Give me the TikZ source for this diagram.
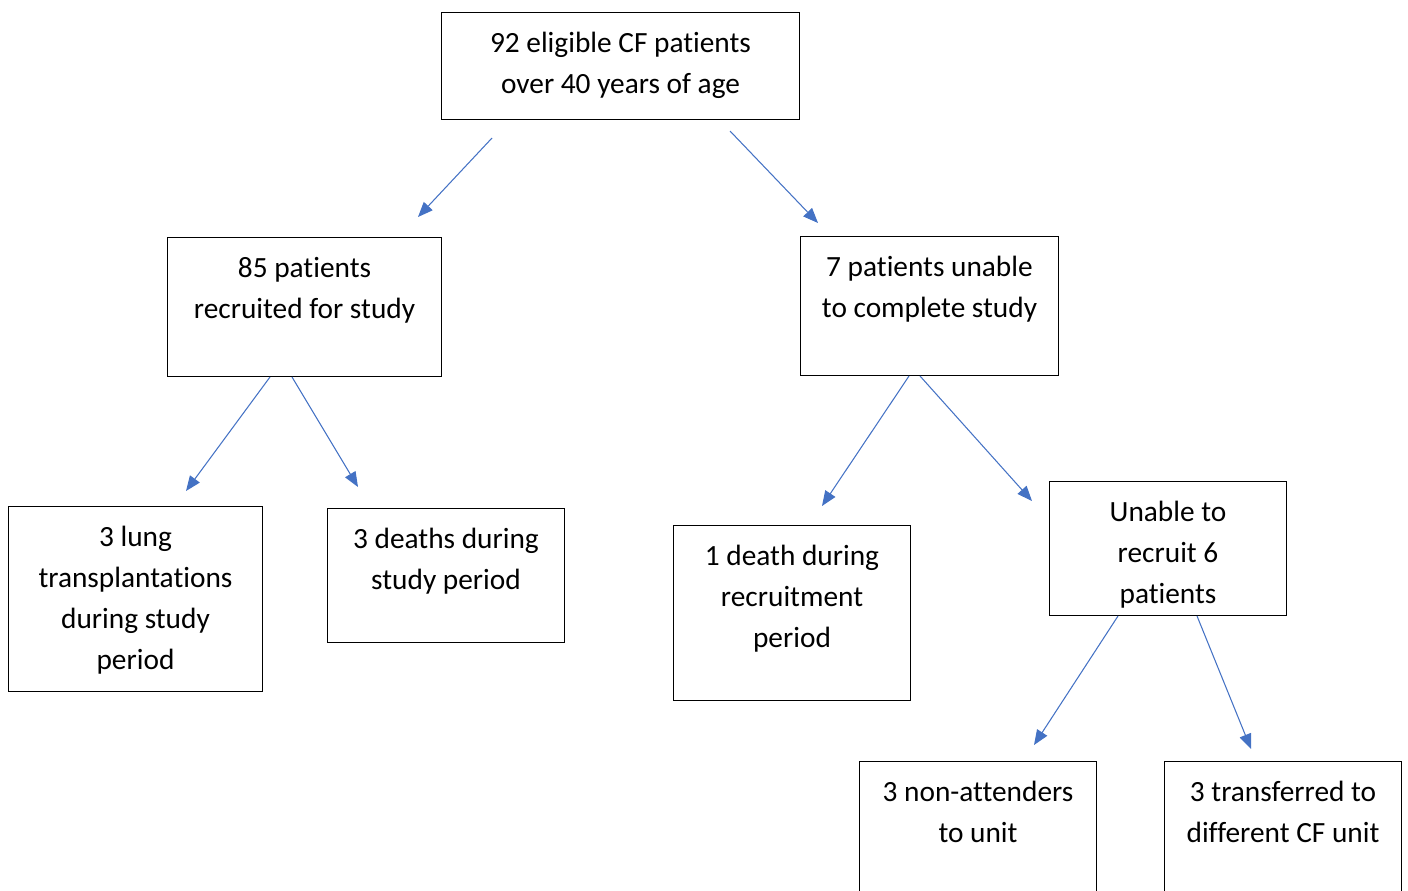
\documentclass[tikz,border=0pt]{standalone}
\usepackage{fontspec}
\setmainfont{Carlito}[Ligatures=NoCommon]
\usetikzlibrary{arrows.meta,positioning}
\definecolor{arrblue}{HTML}{4472C4}
\tikzset{
  box/.style={draw,line width=0.6pt,anchor=north west,inner sep=0pt},
  txt/.style={align=center,inner sep=0pt,font=\fontsize{16.7}{23.4}\selectfont},
  arr/.style={draw=arrblue,line width=0.6pt,-{Triangle[length=0.3cm,width=0.24cm]}}
}
\begin{document}
\begin{tikzpicture}[x=0.02cm,y=-0.02cm]
	\useasboundingbox (0,0) rectangle (1408,890);
	\clip (0,0) rectangle (1408,890);
	% boxes
	\node[box,minimum width=7.16cm,minimum height=2.14cm] (all) at (441,12) {};
	\node[box,minimum width=5.48cm,minimum height=2.78cm] (recr) at (167,237) {};
	\node[box,minimum width=5.16cm,minimum height=2.78cm] (unab) at (800,236) {};
	\node[box,minimum width=5.08cm,minimum height=3.70cm] (lung) at (8,506) {};
	\node[box,minimum width=4.74cm,minimum height=2.68cm] (dstud) at (327,508) {};
	\node[box,minimum width=4.74cm,minimum height=3.50cm] (drecr) at (673,525) {};
	\node[box,minimum width=4.74cm,minimum height=2.68cm] (six) at (1049,481) {};
	\node[box,minimum width=4.74cm,minimum height=4.00cm] (nonatt) at (859,761) {};
	\node[box,minimum width=4.74cm,minimum height=4.00cm] (transf) at (1164,761) {};
	% texts
	\node[txt,below=0.39cm of all.north] (allt) {92 eligible CF patients\\over 40 years of age};
	\node[txt,below=0.39cm of recr.north] (recrt) {85 patients\\recruited for study};
	\node[txt,below=0.39cm of unab.north] (unabt) {7 patients unable\\to complete study};
	\node[txt,below=0.39cm of lung.north] (lungt) {3 lung\\transplantations\\during study\\period};
	\node[txt,below=0.39cm of dstud.north] (dstudt) {3 deaths during\\study period};
	\node[txt,below=0.39cm of drecr.north] (drecrt) {1 death during\\recruitment\\period};
	\node[txt,below=0.39cm of six.north] (sixt) {Unable to\\recruit 6\\patients};
	\node[txt,below=0.39cm of nonatt.north] (nonattt) {3 non-attenders\\to unit};
	\node[txt,below=0.39cm of transf.north] (transft) {3 transferred to\\different CF unit};
	% arrow ends
	\coordinate (a1s) at (492,138); \coordinate (a1e) at (418,217);
	\coordinate (a2s) at (730,131); \coordinate (a2e) at (818,223);
	\coordinate (a3s) at (270,377); \coordinate (a3e) at (186,491);
	\coordinate (a4s) at (292,377); \coordinate (a4e) at (358,487);
	\coordinate (a5s) at (909,376); \coordinate (a5e) at (822,506);
	\coordinate (a6s) at (920,376); \coordinate (a6e) at (1032,501);
	\coordinate (a7s) at (1118,616); \coordinate (a7e) at (1034,745);
	\coordinate (a8s) at (1197,616); \coordinate (a8e) at (1251,749);
	\draw[arr] (a1s)--(a1e);
	\draw[arr] (a2s)--(a2e);
	\draw[arr] (a3s)--(a3e);
	\draw[arr] (a4s)--(a4e);
	\draw[arr] (a5s)--(a5e);
	\draw[arr] (a6s)--(a6e);
	\draw[arr] (a7s)--(a7e);
	\draw[arr] (a8s)--(a8e);
\end{tikzpicture}
\end{document}
